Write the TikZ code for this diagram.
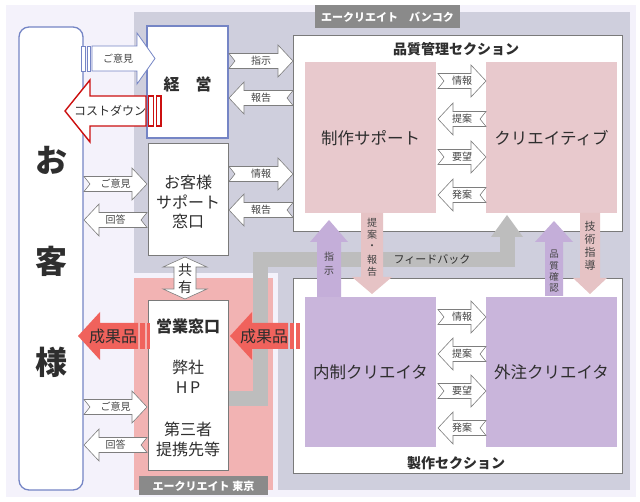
\documentclass[tikz,border=0pt]{standalone}
\usepackage{fontspec}
\setmainfont{Noto Sans CJK JP}
\definecolor{lav}{HTML}{F4F2FB}
\definecolor{bkgrey}{HTML}{CFCFDD}
\definecolor{tkpink}{HTML}{F2B3B3}
\definecolor{tabgrey}{HTML}{8A8A8A}
\definecolor{boxblue}{HTML}{7585C5}
\definecolor{boxgrey}{HTML}{7A7A7A}
\definecolor{pinkbox}{HTML}{E8C9CD}
\definecolor{purpbox}{HTML}{C9B5DB}
\definecolor{purparr}{HTML}{C4AED9}
\definecolor{pinkarr}{HTML}{E6C3C5}
\definecolor{fbgrey}{HTML}{BDBDBD}
\definecolor{redfill}{HTML}{F0625C}
\definecolor{redline}{HTML}{CC1010}
\definecolor{arrgrey}{HTML}{7E7E7E}
\definecolor{labgrey}{HTML}{444444}
\definecolor{txt}{HTML}{2E2E2E}
\newcommand\myArrR[5]{%
  \path[smallarrow] (#2,#4-7.5) -- (#3-15,#4-7.5) -- (#3-15,#4-16) -- (#3,#4) -- (#3-15,#4+16) -- (#3-15,#4+7.5) -- (#2,#4+7.5) -- (#2+6,#4) -- cycle;
  \node[slabel] (#1) at ({(#2+#3)/2},#4) {#5};}
\newcommand\myArrL[5]{%
  \path[smallarrow] (#3,#4-7.5) -- (#2+15,#4-7.5) -- (#2+15,#4-16) -- (#2,#4) -- (#2+15,#4+16) -- (#2+15,#4+7.5) -- (#3,#4+7.5) -- (#3-6,#4) -- cycle;
  \node[slabel] (#1) at ({(#2+#3)/2},#4) {#5};}
\begin{document}
\begin{tikzpicture}[x=1pt,y=-1pt,
  every node/.style={inner sep=0pt,outer sep=0pt},
  fs/.style={font=\fontsize{#1}{#1}\selectfont},
  smallarrow/.style={draw=arrgrey,fill=white,line width=0.6pt,line join=miter},
  slabel/.style={fs=10,text=labgrey},
  whitebox/.style={draw=boxgrey,fill=white,line width=0.8pt},
  bluebox/.style={draw=boxblue,fill=white,line width=1.3pt},
  tabtext/.style={text=white,font=\fontsize{11}{11}\selectfont\bfseries},
  boxtext/.style={fs=16.5,text=txt},
  vlabel/.style={fs=10,text=labgrey},
  redarrow/.style={fill=redfill},
]
\useasboundingbox (0,0) rectangle (640,502);
\fill[white] (0,0) rectangle (640,502);
% backgrounds
\fill[lav] (6,5) rectangle (636,497);
\fill[bkgrey] (134,12) rectangle (630,490);
\fill[lav] (134,273) rectangle (278,490);
\fill[tkpink] (134,278) rectangle (273,490);
% tabs
\fill[tabgrey] (315,5) rectangle (460,28);
\node[tabtext] (tabbk) at (387.5,17) {エークリエイト　バンコク};
\fill[tabgrey] (139,476) rectangle (268,495);
\node[tabtext] (tabtk) at (203.5,486) {エークリエイト 東京};
% customer
\draw[draw=boxblue,fill=white,line width=1.3pt,rounded corners=10pt] (19,27) rectangle (83,490);
\node[font=\fontsize{32}{32}\selectfont\bfseries,text=txt] (c1) at (51,160) {お};
\node[font=\fontsize{32}{32}\selectfont\bfseries,text=txt] (c2) at (51,261) {客};
\node[font=\fontsize{32}{32}\selectfont\bfseries,text=txt] (c3) at (51,362) {様};
% section boxes
\draw[whitebox] (293,35) rectangle (622,231);
\node[font=\fontsize{14}{14}\selectfont\bfseries,text=txt] (qmtitle) at (456,49) {品質管理セクション};
\draw[whitebox] (293,278) rectangle (622,473);
\node[font=\fontsize{14}{14}\selectfont\bfseries,text=txt] (prtitle) at (456,463) {製作セクション};
% feedback
\draw[fbgrey,line width=15pt,line join=miter] (228,399) -- (260,399) -- (260,260) -- (507,260) -- (507,237);
\fill[fbgrey] (491,237) -- (507,215) -- (523,237) -- cycle;
\node[font=\fontsize{11}{11}\selectfont,text=txt] (fb) at (432,259) {フィードバック};
% left boxes
\draw[bluebox] (147,26) rectangle (228,138);
\node[font=\fontsize{16}{16}\selectfont\bfseries,text=txt] (keiei) at (187.5,84) {経　営};
\draw[whitebox] (148,143) rectangle (228,255);
\node[boxtext,fs=16,align=center] (support) at (188,202) {お客様\\[3.5pt]サポート\\[3.5pt]窓口};
\draw[whitebox] (148,300) rectangle (228,470);
\node[font=\fontsize{16}{16}\selectfont\bfseries,text=txt] (eigyo) at (188,326) {営業窓口};
\node[boxtext,fs=16,align=center] (hp) at (188,377) {弊社\\[4pt]H\,P};
\node[boxtext,fs=16,align=center] (third) at (188,439) {第三者\\[4pt]提携先等};
% inner boxes
\fill[pinkbox] (305,62) rectangle (436,213);
\node[boxtext] (seisup) at (370.5,138) {制作サポート};
\fill[pinkbox] (486,62) rectangle (617,213);
\node[boxtext] (creative) at (551.5,138) {クリエイティブ};
\fill[purpbox] (305,297) rectangle (436,447);
\node[boxtext] (naisei) at (370.5,372) {内制クリエイタ};
\fill[purpbox] (486,297) rectangle (617,447);
\node[boxtext] (gaichu) at (551.5,372) {外注クリエイタ};
% vertical arrows
\fill[purparr] (317,297) -- (317,242) -- (310,242) -- (329,220) -- (348,242) -- (341,242) -- (341,297) -- cycle;
\node[vlabel] (shijiA) at (329,257) {指};
\node[vlabel] (shijiB) at (329,271) {示};
\fill[pinkarr] (361,213) -- (361,277) -- (352,277) -- (372,294) -- (392,277) -- (383,277) -- (383,213) -- cycle;
\foreach \ch/\yy [count=\i] in {提/223,案/235,・/247,報/260,告/272}
  \node[vlabel] (teian\i) at (372,\yy) {\ch};
\fill[purparr] (545,296) -- (545,242) -- (535,242) -- (554,221) -- (573,242) -- (563,242) -- (563,296) -- cycle;
\foreach \ch/\yy [count=\i] in {品/254,質/265.5,確/277,認/288.5}
  \node[vlabel,fs=9.5] (kakunin\i) at (554,\yy) {\ch};
\fill[pinkarr] (580,213) -- (580,278) -- (573,278) -- (590,294) -- (607,278) -- (600,278) -- (600,213) -- cycle;
\foreach \ch/\yy [count=\i] in {技/226,術/239,指/252,導/265}
  \node[vlabel,fs=11] (gijutsu\i) at (590,\yy) {\ch};
% shared arrow
\path[smallarrow] (185,257) -- (207,267) -- (196,267) -- (196,289) -- (207,289) -- (185,299) -- (163,289) -- (174,289) -- (174,267) -- (163,267) -- cycle;
\node[fs=14,text=txt] (kyo) at (185,270) {共};
\node[fs=14,text=txt] (yu) at (185,287) {有};
% striped arrows
\draw[draw=boxblue,fill=white,line width=0.8pt] (81,46) rectangle (85.5,71);
\draw[draw=boxblue,fill=white,line width=0.8pt] (87,46) rectangle (90.5,71);
\draw[draw=boxblue,fill=white,line width=0.8pt,line join=miter] (92,46) -- (137,46) -- (137,33) -- (155,58.5) -- (137,84) -- (137,71) -- (92,71) -- cycle;
\node[slabel] (iken1) at (118,58.5) {ご意見};
\draw[draw=redline,fill=white,line width=1.4pt,line join=miter] (65,111) -- (90,80) -- (90,96) -- (146,96) -- (146,126) -- (90,126) -- (90,142) -- cycle;
\draw[draw=redline,fill=white,line width=1.4pt] (148.5,96) rectangle (153.5,126);
\draw[draw=redline,fill=white,line width=1.4pt] (156.5,96) rectangle (161,126);
\node[fs=12,text=txt] (cost) at (110,111) {コストダウン};
\fill[redarrow] (78,336) -- (100,312) -- (100,323) -- (138,323) -- (138,349) -- (100,349) -- (100,360) -- cycle;
\fill[redarrow] (140,323) rectangle (145,349);
\fill[redarrow] (147,323) rectangle (150,349);
\node[fs=16,text=txt] (seika1) at (113,336) {成果品};
\fill[redarrow] (230,336) -- (252,312) -- (252,323) -- (288,323) -- (288,349) -- (252,349) -- (252,360) -- cycle;
\fill[redarrow] (290,323) rectangle (294,349);
\fill[redarrow] (296,323) rectangle (300,349);
\node[fs=16,text=txt] (seika2) at (264,336) {成果品};
% small notched arrows
\myArrR{iken2}{84}{147}{184}{ご意見}
\myArrL{kaito1}{84}{147}{220}{回答}
\myArrR{iken3}{84}{147}{407}{ご意見}
\myArrL{kaito2}{84}{147}{445}{回答}
\myArrR{shiji1}{229}{293}{61}{指示}
\myArrL{hokoku1}{229}{293}{98}{報告}
\myArrR{joho1}{229}{293}{174}{情報}
\myArrL{hokoku2}{229}{293}{210}{報告}
\myArrR{qa1}{438}{486}{81}{情報}
\myArrL{qa2}{438}{486}{119}{提案}
\myArrR{qa3}{438}{486}{157}{要望}
\myArrL{qa4}{438}{486}{195}{発案}
\myArrR{pa1}{438}{486}{317}{情報}
\myArrL{pa2}{438}{486}{354}{提案}
\myArrR{pa3}{438}{486}{391}{要望}
\myArrL{pa4}{438}{486}{428}{発案}
\end{tikzpicture}
\end{document}
